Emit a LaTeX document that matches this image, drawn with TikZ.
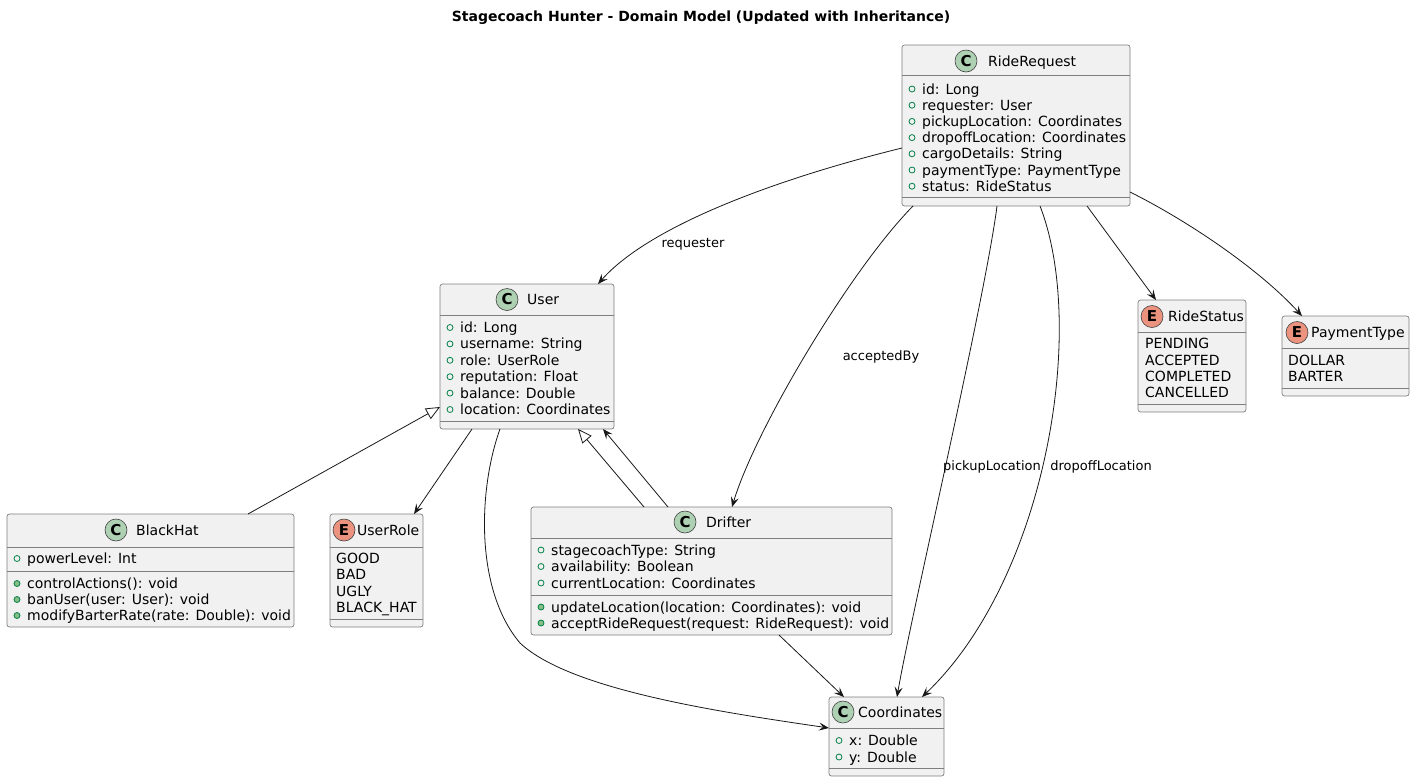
\documentclass[tikz,border=0pt]{standalone}
\usepackage{fontspec}
\setmainfont{DejaVu Sans}
\usetikzlibrary{arrows.meta,calc}
\definecolor{boxfill}{HTML}{F1F1F1}
\definecolor{boxdraw}{HTML}{7F7F7F}
\definecolor{circdraw}{HTML}{404040}
\definecolor{edge}{HTML}{181818}
\definecolor{cgreen}{HTML}{ADD1B2}
\definecolor{eorange}{HTML}{EB937F}
\definecolor{icong}{HTML}{038048}
\definecolor{methf}{HTML}{84BE84}
\tikzset{
  box/.style={draw=boxdraw, fill=boxfill, line width=0.7pt, rounded corners=2.5pt, inner sep=0pt, outer sep=0pt},
  sepline/.style={draw=boxdraw, line width=0.7pt},
  txt/.style={inner sep=0pt, font=\fontsize{14}{16}\selectfont},
  lbl/.style={inner sep=0pt, font=\fontsize{13}{15}\selectfont},
  arr/.style={draw=edge, line width=0.8pt, -{Stealth[length=10pt,width=8pt,inset=4pt]}},
  inh/.style={draw=edge, line width=0.8pt, -{Triangle[open,length=14pt,width=12pt,fill=white]}},
}
\newcommand\classbox[5]{\node[box, minimum width={#4-#2}, minimum height={#5-#3}] (#1) at ({(#2+#4)/2},{(#3+#5)/2}) {};}
\newcommand\hsep[3]{\draw[sepline] (#1,#3) -- (#2,#3);}
\newcommand\hdr[6]{\draw[fill=#4, draw=circdraw, line width=0.6pt] (#1,#2) circle (11);
  \node[inner sep=0pt, font=\bfseries\fontsize{15}{16}\selectfont] at (#1,#2) {#3};
  \node[anchor=base west, txt] at (#5,#2+5) {#6};}
\newcommand\attr[3]{\draw[draw=icong, line width=0.8pt] (#1,#2) circle (3);
  \node[anchor=base west, txt] at (#1+10,#2+5) {#3};}
\newcommand\meth[3]{\draw[draw=icong, fill=methf, line width=0.8pt] (#1,#2) circle (3);
  \node[anchor=base west, txt] at (#1+10,#2+5) {#3};}
\newcommand\eval[3]{\node[anchor=base west, txt] at (#1,#2+5) {#3};}
\begin{document}
\begin{tikzpicture}[x=1pt,y=-1pt]
\useasboundingbox (0,0) rectangle (1415,782);
\node[inner sep=0pt, font=\bfseries\fontsize{14}{16}\selectfont] (title) at (701,18) {Stagecoach Hunter - Domain Model (Updated with Inheritance)};

% RideRequest
\classbox{rr}{902}{45}{1130}{206}
\hsep{902}{1130}{75}\hsep{902}{1130}{197}
\hdr{966}{61}{C}{cgreen}{988}{RideRequest}
\attr{912}{89}{id: Long}
\attr{912}{105.2}{requester: User}
\attr{912}{121.4}{pickupLocation: Coordinates}
\attr{912}{137.6}{dropoffLocation: Coordinates}
\attr{912}{153.8}{cargoDetails: String}
\attr{912}{170}{paymentType: PaymentType}
\attr{912}{186.2}{status: RideStatus}

% User
\classbox{user}{440}{284}{614}{429}
\hsep{440}{614}{315}\hsep{440}{614}{421}
\hdr{507}{299.5}{C}{cgreen}{527}{User}
\attr{450}{327.5}{id: Long}
\attr{450}{343.9}{username: String}
\attr{450}{360.3}{role: UserRole}
\attr{450}{376.7}{reputation: Float}
\attr{450}{393.1}{balance: Double}
\attr{450}{409.5}{location: Coordinates}

% BlackHat
\classbox{bh}{7}{514}{294}{627}
\hsep{7}{294}{547}\hsep{7}{294}{571}
\hdr{116}{530}{C}{cgreen}{136}{BlackHat}
\attr{17}{558.5}{powerLevel: Int}
\meth{17}{583.5}{controlActions(): void}
\meth{17}{599.5}{banUser(user: User): void}
\meth{17}{615.5}{modifyBarterRate(rate: Double): void}

% UserRole
\classbox{ur}{330}{514}{423}{627}
\hsep{330}{423}{547}\hsep{330}{423}{619}
\hdr{344}{530}{E}{eorange}{357}{UserRole}
\eval{336}{558.5}{GOOD}
\eval{336}{574.8}{BAD}
\eval{336}{591.1}{UGLY}
\eval{336}{607.4}{BLACK\_HAT}

% Drifter
\classbox{dr}{531}{507}{892}{635}
\hsep{531}{892}{538}\hsep{531}{892}{595}
\hdr{685}{522}{C}{cgreen}{706}{Drifter}
\attr{541}{550}{stagecoachType: String}
\attr{541}{566.5}{availability: Boolean}
\attr{541}{583}{currentLocation: Coordinates}
\meth{541}{607}{updateLocation(location: Coordinates): void}
\meth{541}{623}{acceptRideRequest(request: RideRequest): void}

% Coordinates
\classbox{co}{829}{697}{944}{776}
\hsep{829}{944}{728}\hsep{829}{944}{768}
\hdr{843}{712}{C}{cgreen}{858}{Coordinates}
\attr{839}{740.5}{x: Double}
\attr{839}{757}{y: Double}

% RideStatus
\classbox{rs}{1138}{300}{1246}{412}
\hsep{1138}{1246}{332}\hsep{1138}{1246}{404}
\hdr{1152}{316.5}{E}{eorange}{1168}{RideStatus}
\eval{1145}{343.5}{PENDING}
\eval{1145}{360}{ACCEPTED}
\eval{1145}{376}{COMPLETED}
\eval{1145}{392}{CANCELLED}

% PaymentType
\classbox{pt}{1282}{316}{1409}{396}
\hsep{1282}{1409}{348}\hsep{1282}{1409}{388}
\hdr{1297}{332.5}{E}{eorange}{1311}{PaymentType}
\eval{1288}{360}{DOLLAR}
\eval{1288}{376}{BARTER}

% connectors
\draw[arr] ($(rr.north west)+(0,103)$) .. controls (780,178) and (650,225) .. ($(user.north west)+(158,0)$);
\node[lbl] (lreq) at (693,244) {requester};

\draw[arr] ($(rr.south west)+(11,0)$) .. controls (850,270) and (755,430) .. ($(dr.north west)+(201,0)$);
\node[lbl] (lacc) at (881,357) {acceptedBy};

\draw[arr] ($(rr.south west)+(95,0)$) .. controls (985,300) and (910,620) .. ($(co.north west)+(68,0)$);
\node[lbl] (lpick) at (992,467) {pickupLocation};

\draw[arr] ($(rr.south west)+(138,0)$) .. controls (1088,330) and (1045,580) .. ($(co.north west)+(93,0)$);
\node[lbl] (ldrop) at (1101,467) {dropoffLocation};

\draw[arr] ($(rr.south west)+(185,0)$) -- ($(rs.north west)+(18,0)$);
\draw[arr] ($(rr.north east)+(0,147)$) .. controls (1190,222) and (1260,270) .. ($(pt.north west)+(20,0)$);

\draw[inh] ($(bh.north west)+(241,0)$) -- ($(user.north west)+(0,123)$);
\draw[arr] ($(user.south west)+(32,0)$) -- ($(ur.north west)+(84,0)$);
\draw[arr] ($(user.south west)+(60,0)$) .. controls (478,490) and (475,590) .. (520,643) .. controls (570,690) and (720,712) .. ($(co.north west)+(0,31)$);

\draw[inh] ($(dr.north west)+(113,0)$) -- ($(user.south west)+(138,0)$);
\draw[arr] ($(dr.north west)+(137,0)$) -- ($(user.south west)+(163,0)$);
\draw[arr] ($(dr.south west)+(248,0)$) -- ($(co.north west)+(15,0)$);
\end{tikzpicture}
\end{document}
